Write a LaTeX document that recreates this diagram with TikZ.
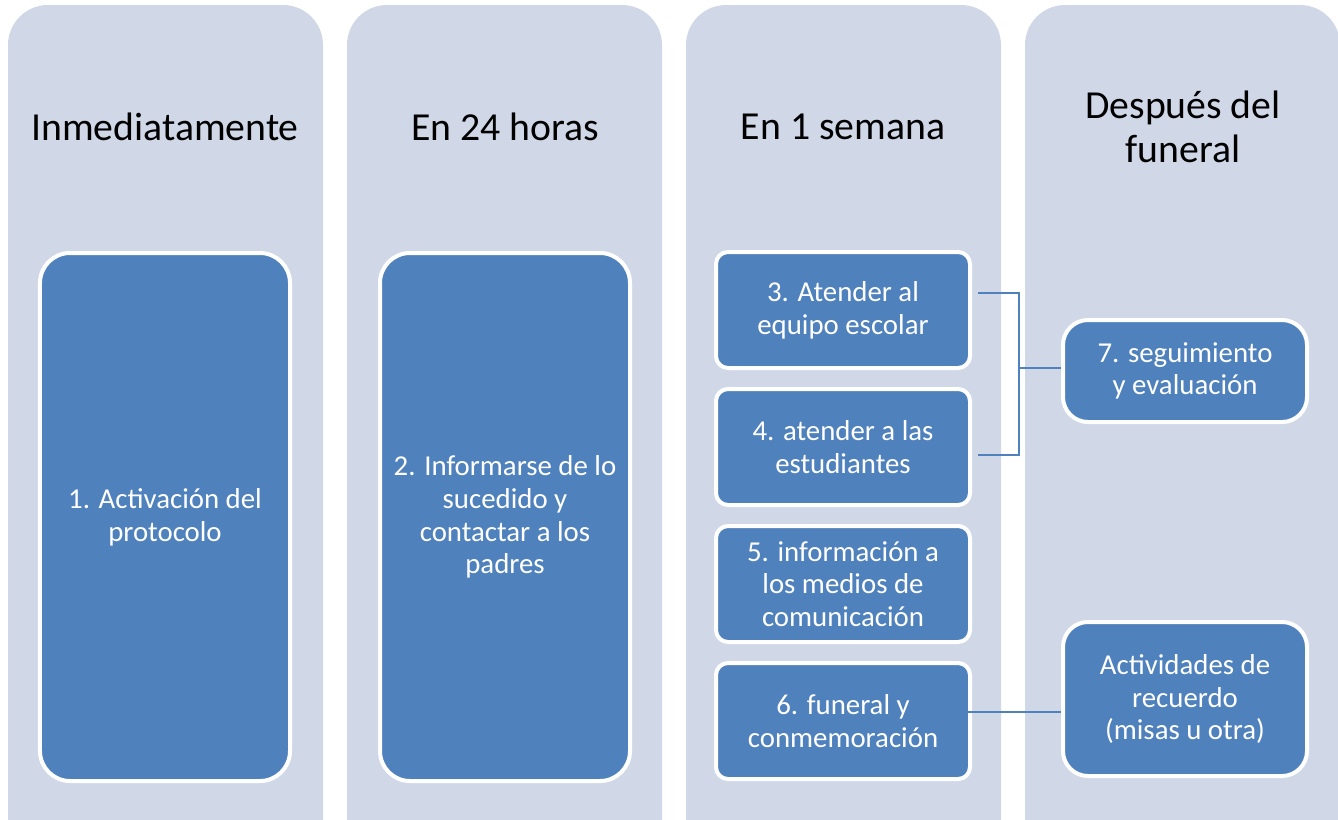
\documentclass[tikz,border=0pt]{standalone}
\usepackage{fontspec}
\setmainfont{Carlito}
\usetikzlibrary{calc}

\definecolor{colbg}{HTML}{D0D8E8}
\definecolor{stepblue}{HTML}{4F81BD}

\tikzset{
  phase/.style={fill=colbg, rounded corners=8mm},
  phasetitle/.style={align=center, font=\fontsize{22.6}{25}\selectfont},
  bigbox/.style={fill=stepblue, draw=white, line width=0.8mm, rounded corners=6mm,
    minimum width=5cm, minimum height=10.56cm, align=center, text=white,
    font=\fontsize{16.4}{18.6}\selectfont},
  smallbox/.style={fill=stepblue, draw=white, line width=0.8mm, rounded corners=2.4mm,
    minimum width=5.08cm, minimum height=2.32cm, align=center, text=white,
    font=\fontsize{16.4}{18.6}\selectfont},
  sidebox/.style={fill=stepblue, draw=white, line width=0.8mm, rounded corners=5mm,
    minimum width=4.88cm, align=center, text=white,
    font=\fontsize{16.4}{18.6}\selectfont},
  link/.style={draw=stepblue, line width=0.4mm}
}

\begin{document}
\begin{tikzpicture}[x=0.2mm, y=-0.2mm]
\clip (0,0) rectangle (1338,819);
\fill[white] (0,0) rectangle (1338,819);
% columns
\fill[phase] (8,5) rectangle (323,880);
\fill[phase] (347,5) rectangle (662,880);
\fill[phase] (686,5) rectangle (1001,880);
\fill[phase] (1025,5) rectangle (1340,880);
\node[phasetitle] (t1) at (165,127) {Inmediatamente};
\node[phasetitle] (t2) at (505,127) {En 24 horas};
\node[phasetitle] (t3) at (843,127) {En 1 semana};
\node[phasetitle] (t4) at (1183,127) {Después del\\funeral};
% steps
\node[bigbox] (b1) at (165,517) {1. Activación del\\protocolo};
\node[bigbox] (b2) at (505,517) {2. Informarse de lo\\sucedido y\\contactar a los\\padres};
\node[smallbox] (s3) at (843,310) {3. Atender al\\equipo escolar};
\node[smallbox] (s4) at (843,447) {4. atender a las\\estudiantes};
\node[smallbox] (s5) at (843,584) {5. información a\\los medios de\\comunicación};
\node[smallbox] (s6) at (843,721) {6. funeral y\\conmemoración};
\node[sidebox, minimum height=2.04cm] (r1) at (1185,371) {7. seguimiento\\y evaluación};
\node[sidebox, minimum height=3.08cm] (r2) at (1185,699) {Actividades de\\recuerdo\\(misas u otra)};
% connectors
\coordinate (m3) at ($(s3.east)+(6,-17)$);
\coordinate (m4) at ($(s4.east)+(6,8)$);
\coordinate (j1) at (1019,368);
\draw[link] (m3) -| (j1 |- m4) -- (m4);
\draw[link] (j1) -- (j1 -| r1.west);
\coordinate (m6) at ($(s6.east)+(-4,-9)$);
\draw[link] (m6) -- (m6 -| r2.west);
\end{tikzpicture}
\end{document}
